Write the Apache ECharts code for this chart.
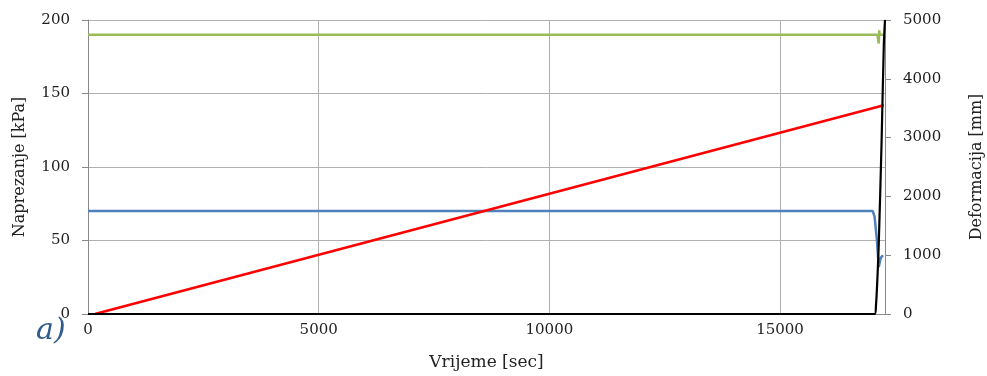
<!DOCTYPE html>
<html><head><meta charset="utf-8">
<script src="https://cdn.jsdelivr.net/npm/echarts@6/dist/echarts.min.js"></script>
<style>html,body{margin:0;padding:0;background:#fff}#c{width:987px;height:376px}</style>
</head><body><div id="c"></div>
<script>
// Time [sec] and values per series
const greenTime = [0, 5000, 10000, 15000, 17110, 17135, 17140, 17150, 17160, 17230];
const greenVals = [190, 190, 190, 190, 190, 189, 184, 193, 190, 190];
const blueTime = [0, 5000, 10000, 15000, 17010, 17050, 17100, 17140, 17180, 17230];
const blueVals = [70, 70, 70, 70, 70, 66, 50, 32, 38, 40];
const redTime = [150, 17250];
const redVals = [0, 142];
const blackTime = [0, 17050, 17080, 17110, 17140, 17200, 17250, 17275];
const blackVals = [0, 0, 150, 600, 1200, 2900, 4600, 5000];
const xTicks = [0, 5000, 10000, 15000];

const zip = (a, b) => a.map((v, i) => [v, b[i]]);
const font = 'DejaVu Serif';
const plain = v => String(v);
const chart = echarts.init(document.getElementById('c'), null, {renderer: 'canvas'});
chart.setOption({
  animation: false,
  grid: {left: 88, right: 102, top: 20, bottom: 62, containLabel: false, outerBoundsMode: 'none'},
  xAxis: {
    type: 'value', min: 0, max: 17275, interval: 5000,
    name: 'Vrijeme [sec]', nameLocation: 'middle', nameGap: 40,
    nameTextStyle: {fontFamily: font, fontSize: 17, color: '#222'},
    axisLine: {show: true, lineStyle: {color: '#888'}},
    axisTick: {show: false},
    axisLabel: {fontFamily: font, fontSize: 15, color: '#222', showMaxLabel: false, margin: 9, formatter: plain},
    splitLine: {show: true, lineStyle: {color: '#b0b0b0'}}
  },
  yAxis: [{
    type: 'value', min: 0, max: 200, interval: 50,
    name: 'Naprezanje [kPa]', nameLocation: 'middle', nameGap: 60, nameRotate: 90,
    nameTextStyle: {fontFamily: font, fontSize: 16, color: '#222'},
    axisLine: {show: true, lineStyle: {color: '#888'}},
    axisTick: {show: true, inside: false, length: 6, lineStyle: {color: '#888'}},
    axisLabel: {fontFamily: font, fontSize: 15, color: '#222', margin: 18, formatter: plain},
    splitLine: {show: true, lineStyle: {color: '#b0b0b0'}}
  }, {
    type: 'value', min: 0, max: 5000, interval: 1000, position: 'right',
    name: 'Deformacija [mm]', nameLocation: 'middle', nameGap: 84, nameRotate: 90,
    nameTextStyle: {fontFamily: font, fontSize: 16, color: '#222'},
    axisLine: {show: true, lineStyle: {color: '#888'}},
    axisTick: {show: true, inside: false, length: 6, lineStyle: {color: '#888'}},
    axisLabel: {fontFamily: font, fontSize: 15, color: '#222', margin: 18, formatter: plain},
    splitLine: {show: false}
  }],
  graphic: [{
    type: 'text', left: 36, top: 316,
    style: {text: 'a)', font: 'italic 30px "DejaVu Serif"', fill: '#2f5b8c'}
  }],
  series: [
    {type: 'line', yAxisIndex: 0, data: zip(greenTime, greenVals), showSymbol: false, lineStyle: {color: '#9bbb59', width: 2.5}, z: 3},
    {type: 'line', yAxisIndex: 0, data: zip(blueTime, blueVals), showSymbol: false, lineStyle: {color: '#4f81bd', width: 2.5}, z: 3},
    {type: 'line', yAxisIndex: 0, data: zip(redTime, redVals), showSymbol: false, lineStyle: {color: '#ff0000', width: 2.5}, z: 4},
    {type: 'line', yAxisIndex: 1, data: zip(blackTime, blackVals), showSymbol: false, smooth: 0.3, lineStyle: {color: '#000', width: 2.2}, z: 5}
  ]
});
</script></body></html>
